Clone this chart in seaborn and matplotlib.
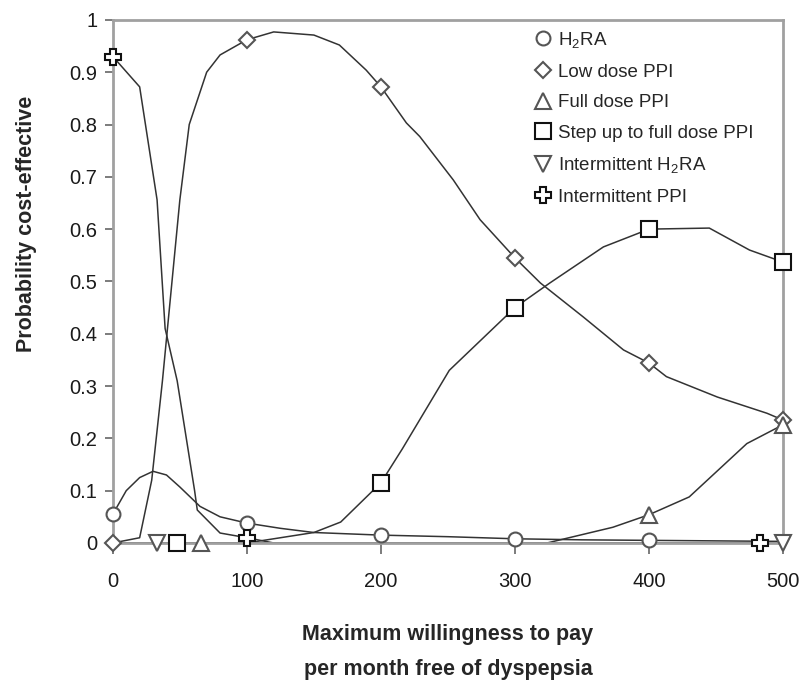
import pandas as pd
import matplotlib
matplotlib.use("Agg")
import matplotlib.pyplot as plt
import seaborn as sns
from matplotlib.lines import Line2D

sns.set_style("white")
plt.rcParams['font.family'] = ['Liberation Sans Narrow', 'Liberation Sans', 'DejaVu Sans']
plt.rcParams['mathtext.default'] = 'regular'

# -------------------------------
# Data
# -------------------------------
h2ra_x = [0, 10, 20, 30, 40, 50, 65, 80, 100, 125, 150, 200, 250, 300, 350, 400, 450, 500]
h2ra_y = [0.055, 0.10, 0.125, 0.137, 0.13, 0.107, 0.07, 0.05, 0.038, 0.028, 0.02, 0.015,
          0.012, 0.008, 0.006, 0.005, 0.004, 0.003]
h2ra_mx = [0, 100, 200, 300, 400]
h2ra_my = [0.055, 0.038, 0.015, 0.008, 0.005]

low_x = [0, 20, 29, 37, 50, 57, 70, 80, 100, 120, 150, 169, 189, 200, 219, 229, 254, 274,
         300, 319, 351, 381, 400, 413, 451, 488, 500]
low_y = [0.0, 0.01, 0.12, 0.31, 0.656, 0.80, 0.90, 0.933, 0.962, 0.977, 0.971, 0.952, 0.904,
         0.872, 0.803, 0.777, 0.694, 0.618, 0.545, 0.497, 0.432, 0.369, 0.344, 0.318, 0.279,
         0.248, 0.235]
low_mx = [0, 100, 200, 300, 400, 500]
low_my = [0.0, 0.962, 0.872, 0.545, 0.344, 0.235]

full_x = [0, 100, 200, 300, 324, 373, 400, 430, 473, 500]
full_y = [0.0, 0.0, 0.0, 0.0, 0.0, 0.03, 0.054, 0.088, 0.19, 0.226]
full_mx = [66, 400, 500]
full_my = [0.0, 0.054, 0.226]

step_x = [0, 100, 150, 170, 200, 216, 251, 300, 326, 366, 400, 445, 475, 500]
step_y = [0.0, 0.0, 0.02, 0.04, 0.115, 0.18, 0.33, 0.45, 0.497, 0.566, 0.60, 0.602, 0.56, 0.537]
step_mx = [48, 200, 300, 400, 500]
step_my = [0.0, 0.115, 0.45, 0.60, 0.537]

ih2ra_x = [0, 100, 200, 300, 400, 500]
ih2ra_y = [0.0, 0.0, 0.0, 0.0, 0.0, 0.0]
ih2ra_mx = [33, 500]
ih2ra_my = [0.0, 0.0]

ippi_x = [0, 20, 33, 39, 48, 61, 63, 80, 100, 120, 200, 300, 400, 483]
ippi_y = [0.93, 0.872, 0.656, 0.41, 0.31, 0.10, 0.063, 0.019, 0.01, 0.0, 0.0, 0.0, 0.0, 0.0]
ippi_mx = [0, 100, 483]
ippi_my = [0.93, 0.01, 0.0]

labels = ["H$_2$RA", "Low dose PPI", "Full dose PPI", "Step up to full dose PPI",
          "Intermittent H$_2$RA", "Intermittent PPI"]

series = [
    (h2ra_x, h2ra_y, h2ra_mx, h2ra_my, "o", 10, "#555555"),
    (low_x, low_y, low_mx, low_my, "D", 8.5, "#555555"),
    (full_x, full_y, full_mx, full_my, "^", 12, "#555555"),
    (step_x, step_y, step_mx, step_my, "s", 12, "#111111"),
    (ih2ra_x, ih2ra_y, ih2ra_mx, ih2ra_my, "v", 12, "#555555"),
    (ippi_x, ippi_y, ippi_mx, ippi_my, "P", 12, "#111111"),
]

fig = plt.figure(figsize=(8.06, 6.86), dpi=100)
ax = fig.add_axes([0.140, 0.2085, 0.8315, 0.7625])

for (x, y, mx, my, mk, ms, ec) in series:
    sns.lineplot(x=x, y=y, ax=ax, color="#333333", linewidth=1.1, estimator=None, sort=False)

handles = []
for (x, y, mx, my, mk, ms, ec), lab in zip(series, labels):
    ax.plot(mx, my, linestyle="none", marker=mk, markersize=ms, markerfacecolor="white",
            markeredgecolor=ec, markeredgewidth=1.5, clip_on=False, zorder=5)
    handles.append(Line2D([], [], linestyle="none", marker=mk, markersize=ms,
                          markerfacecolor="white", markeredgecolor=ec, markeredgewidth=1.5,
                          label=lab))

ax.set_xlim(0, 500)
ax.set_ylim(0, 1)
ax.set_xticks([0, 100, 200, 300, 400, 500])
ax.set_yticks([i / 10 for i in range(11)])
ax.set_yticklabels(["0", "0.1", "0.2", "0.3", "0.4", "0.5", "0.6", "0.7", "0.8", "0.9", "1"])

for sp in ax.spines.values():
    sp.set_color("#a0a0a0")
    sp.set_linewidth(2)

ax.tick_params(axis="x", direction="out", length=8, width=1.2, color="#666666",
               labelsize=14.5, labelcolor="#1a1a1a", pad=13)
ax.tick_params(axis="y", direction="out", length=6, width=1.2, color="#666666",
               labelsize=14.5, labelcolor="#1a1a1a", pad=5)
ax.xaxis.set_ticks_position("bottom")
ax.yaxis.set_ticks_position("left")

ax.set_xlabel("Maximum willingness to pay\nper month free of dyspepsia",
              fontsize=15.5, fontweight="bold", labelpad=24, linespacing=1.85)
ax.set_ylabel("Probability cost-effective", fontsize=15.5, fontweight="bold")
ax.yaxis.set_label_coords(-0.113, 0.61)

ax.legend(handles=handles, loc="upper left", bbox_to_anchor=(0.617, 0.995), frameon=False,
          fontsize=13.5, handlelength=1.0, handletextpad=0.3, labelspacing=0.72,
          borderaxespad=0)

plt.savefig("out.png", dpi=100)
